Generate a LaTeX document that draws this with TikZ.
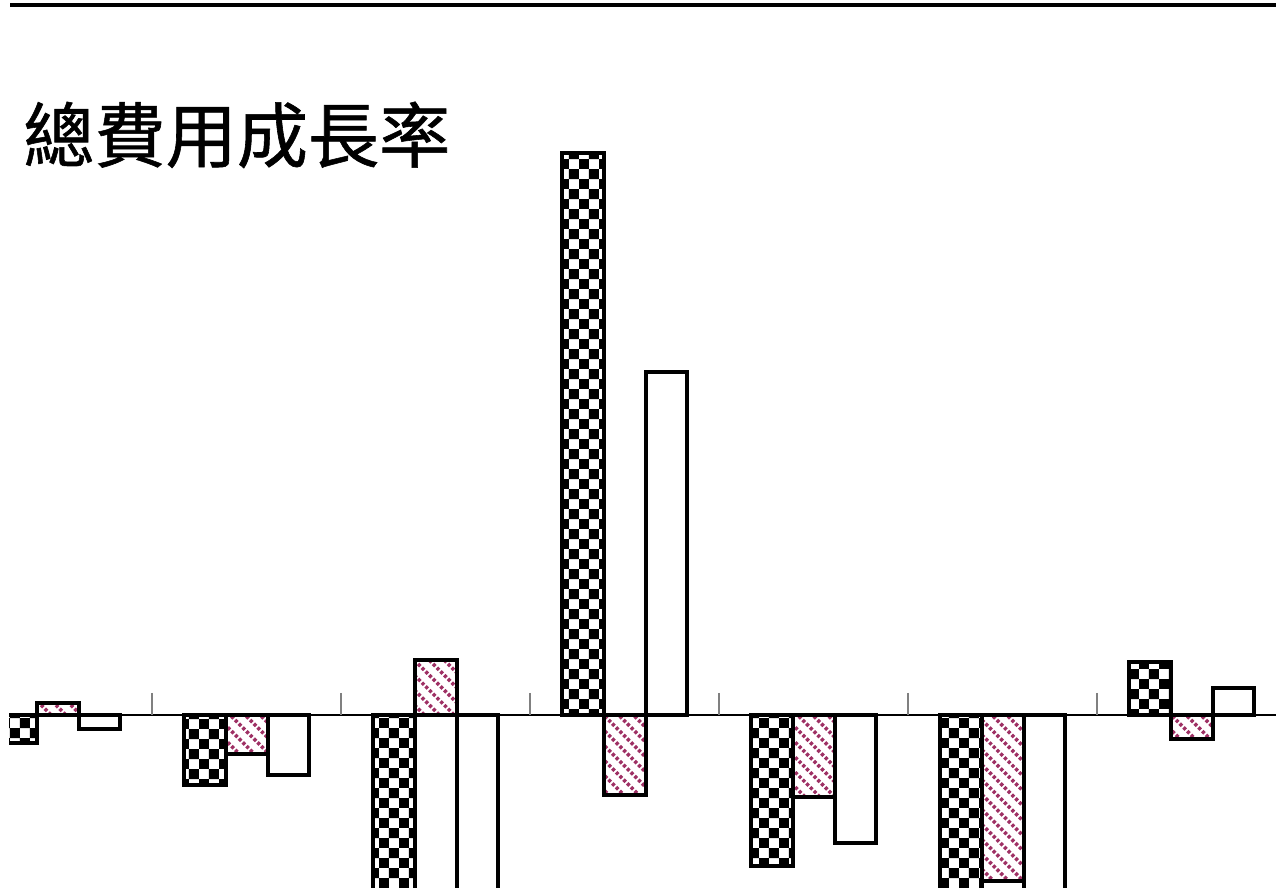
\documentclass[tikz,border=0pt]{standalone}
\usepackage{fontspec}
\newfontfamily\cjk[FakeBold=0.8]{Noto Sans CJK TC}
\usetikzlibrary{patterns}
\definecolor{hatchpink}{RGB}{158,48,100}

% dashed diagonal hatch
\pgfdeclarepatternformonly{pinkdash}{\pgfqpoint{-1pt}{-1pt}}{\pgfqpoint{9.5pt}{9.5pt}}{\pgfqpoint{8.5pt}{8.5pt}}{
	\pgfsetlinewidth{2pt}
	\pgfsetdash{{1.8pt}{1.2pt}}{0pt}
	\pgfpathmoveto{\pgfqpoint{0pt}{8.5pt}}
	\pgfpathlineto{\pgfqpoint{8.5pt}{0pt}}
	\pgfusepath{stroke}}

\begin{document}
\begin{tikzpicture}[x=0.02cm,y=-0.02cm,
	bar/.style={draw=black,line width=2.8pt},
	checkbar/.style={bar,pattern=checkerboard,pattern color=black},
	hatchbar/.style={bar,pattern=pinkdash,pattern color=hatchpink},
	plainbar/.style={bar,fill=white}]
	\useasboundingbox (0,0) rectangle (1276,888);

	% title and top rule
	\draw[line width=2.6pt] (10,5) -- (1276,5);
	\node[anchor=base west,inner sep=0pt,font=\cjk\fontsize{40.5}{40.5}\selectfont] (title) at (23,162) {總費用成長率};

	\clip (9,0) rectangle (1276,888);

	% axis and ticks
	\draw[line width=0.85pt] (9,715) -- (1276,715);
	\draw[gray,line width=0.6pt] (152,693) -- (152,715);
	\draw[gray,line width=0.6pt] (341,693) -- (341,715);
	\draw[gray,line width=0.6pt] (530,693) -- (530,715);
	\draw[gray,line width=0.6pt] (719,693) -- (719,715);
	\draw[gray,line width=0.6pt] (908,693) -- (908,715);
	\draw[gray,line width=0.6pt] (1097,693) -- (1097,715);

	% group 1
	\draw[checkbar] (-5,715) rectangle (37,743);
	\draw[hatchbar] (37,715) rectangle (79,703);
	\draw[plainbar] (79,715) rectangle (120,729);

	% group 2
	\draw[checkbar] (184,715) rectangle (226,785);
	\draw[hatchbar] (226,715) rectangle (268,754);
	\draw[plainbar] (268,715) rectangle (309,775);

	% group 3
	\draw[checkbar] (373,715) rectangle (415,900);
	\draw[hatchbar] (415,715) rectangle (457,660);
	\draw[plainbar] (457,715) rectangle (498,900);

	% group 4
	\draw[checkbar] (562,715) rectangle (604,153);
	\draw[hatchbar] (604,715) rectangle (646,795);
	\draw[plainbar] (646,715) rectangle (687,372);

	% group 5
	\draw[checkbar] (751,715) rectangle (793,866);
	\draw[hatchbar] (793,715) rectangle (835,797);
	\draw[plainbar] (835,715) rectangle (876,843);

	% group 6
	\draw[checkbar] (940,715) rectangle (982,900);
	\draw[hatchbar] (982,715) rectangle (1024,881);
	\draw[plainbar] (1024,715) rectangle (1065,900);

	% group 7
	\draw[checkbar] (1129,715) rectangle (1171,662);
	\draw[hatchbar] (1171,715) rectangle (1213,739);
	\draw[plainbar] (1213,715) rectangle (1254,688);
\end{tikzpicture}
\end{document}
